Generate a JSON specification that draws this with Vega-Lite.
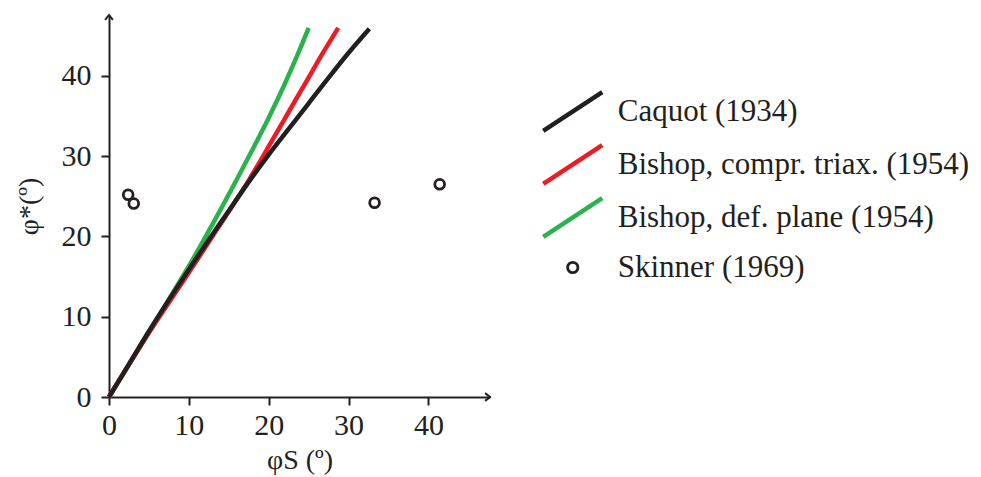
{
  "$schema": "https://vega.github.io/schema/vega-lite/v6.json",
  "width": 381,
  "height": 382,
  "autosize": "none",
  "padding": {"left": 109, "top": 15, "right": 491, "bottom": 80},
  "background": "white",
  "config": {"view": {"stroke": null}, "font": "Liberation Serif"},
  "datasets": {
    "curves": [
      {"series": "Bishop, def. plane (1954)", "phi_s": 0, "phi_star": 0},
      {"series": "Bishop, def. plane (1954)", "phi_s": 5, "phi_star": 8.1},
      {"series": "Bishop, def. plane (1954)", "phi_s": 8, "phi_star": 13.0},
      {"series": "Bishop, def. plane (1954)", "phi_s": 10, "phi_star": 16.3},
      {"series": "Bishop, def. plane (1954)", "phi_s": 12, "phi_star": 19.8},
      {"series": "Bishop, def. plane (1954)", "phi_s": 14, "phi_star": 23.4},
      {"series": "Bishop, def. plane (1954)", "phi_s": 16, "phi_star": 27.1},
      {"series": "Bishop, def. plane (1954)", "phi_s": 18, "phi_star": 30.9},
      {"series": "Bishop, def. plane (1954)", "phi_s": 20, "phi_star": 34.8},
      {"series": "Bishop, def. plane (1954)", "phi_s": 22, "phi_star": 39.0},
      {"series": "Bishop, def. plane (1954)", "phi_s": 23.5, "phi_star": 42.4},
      {"series": "Bishop, def. plane (1954)", "phi_s": 25.0, "phi_star": 46.0},
      {"series": "Bishop, compr. triax. (1954)", "phi_s": 0, "phi_star": 0},
      {"series": "Bishop, compr. triax. (1954)", "phi_s": 5, "phi_star": 8.0},
      {"series": "Bishop, compr. triax. (1954)", "phi_s": 10, "phi_star": 15.5},
      {"series": "Bishop, compr. triax. (1954)", "phi_s": 13.4, "phi_star": 20.7},
      {"series": "Bishop, compr. triax. (1954)", "phi_s": 15.5, "phi_star": 23.9},
      {"series": "Bishop, compr. triax. (1954)", "phi_s": 17.5, "phi_star": 27.0},
      {"series": "Bishop, compr. triax. (1954)", "phi_s": 20.5, "phi_star": 32.1},
      {"series": "Bishop, compr. triax. (1954)", "phi_s": 22.6, "phi_star": 35.7},
      {"series": "Bishop, compr. triax. (1954)", "phi_s": 24.7, "phi_star": 39.3},
      {"series": "Bishop, compr. triax. (1954)", "phi_s": 26.8, "phi_star": 42.9},
      {"series": "Bishop, compr. triax. (1954)", "phi_s": 28.7, "phi_star": 46.0},
      {"series": "Caquot (1934)", "phi_s": 0, "phi_star": 0},
      {"series": "Caquot (1934)", "phi_s": 2.5, "phi_star": 4.1},
      {"series": "Caquot (1934)", "phi_s": 5, "phi_star": 8.2},
      {"series": "Caquot (1934)", "phi_s": 7.5, "phi_star": 12.1},
      {"series": "Caquot (1934)", "phi_s": 10, "phi_star": 15.9},
      {"series": "Caquot (1934)", "phi_s": 12.5, "phi_star": 19.6},
      {"series": "Caquot (1934)", "phi_s": 15, "phi_star": 23.2},
      {"series": "Caquot (1934)", "phi_s": 17.5, "phi_star": 26.8},
      {"series": "Caquot (1934)", "phi_s": 20, "phi_star": 30.2},
      {"series": "Caquot (1934)", "phi_s": 22.5, "phi_star": 33.4},
      {"series": "Caquot (1934)", "phi_s": 25, "phi_star": 36.6},
      {"series": "Caquot (1934)", "phi_s": 27.5, "phi_star": 39.8},
      {"series": "Caquot (1934)", "phi_s": 30, "phi_star": 42.9},
      {"series": "Caquot (1934)", "phi_s": 32.6, "phi_star": 45.9}
    ],
    "skinner": [
      {"series": "Skinner (1969)", "phi_s": 2.4, "phi_star": 25.2},
      {"series": "Skinner (1969)", "phi_s": 3.1, "phi_star": 24.1},
      {"series": "Skinner (1969)", "phi_s": 33.25, "phi_star": 24.2},
      {"series": "Skinner (1969)", "phi_s": 41.4, "phi_star": 26.5}
    ]
  },
  "layer": [
    {
      "data": {"name": "curves"},
      "mark": {"type": "line", "strokeWidth": 4.5, "strokeCap": "butt", "interpolate": "monotone"},
      "encoding": {
        "x": {
          "field": "phi_s", "type": "quantitative",
          "scale": {"domain": [0, 47.7], "nice": false, "zero": true},
          "axis": {
            "title": "φS (º)", "values": [0, 10, 20, 30, 40], "grid": false,
            "tickSize": 8, "tickWidth": 2, "domainWidth": 2,
            "domainColor": "#231f20", "tickColor": "#231f20",
            "labelFont": "Liberation Serif", "labelFontSize": 30, "labelColor": "#231f20",
            "labelPadding": 5, "labelFlush": false, "labelOverlap": false,
            "titleFont": "Liberation Serif", "titleFontSize": 28, "titleFontWeight": "normal",
            "titleColor": "#231f20", "titlePadding": 6
          }
        },
        "y": {
          "field": "phi_star", "type": "quantitative",
          "scale": {"domain": [0, 47.6], "nice": false, "zero": true},
          "axis": {
            "title": "φ*(º)", "values": [0, 10, 20, 30, 40], "grid": false,
            "tickSize": 8, "tickWidth": 2, "domainWidth": 2,
            "domainColor": "#231f20", "tickColor": "#231f20",
            "labelFont": "Liberation Serif", "labelFontSize": 30, "labelColor": "#231f20",
            "labelPadding": 10, "labelFlush": false, "labelOverlap": false,
            "titleFont": "Liberation Serif", "titleFontSize": 28, "titleFontWeight": "normal",
            "titleColor": "#231f20", "titlePadding": 18
          }
        },
        "color": {
          "field": "series", "type": "nominal",
          "scale": {
            "domain": ["Caquot (1934)", "Bishop, compr. triax. (1954)", "Bishop, def. plane (1954)", "Skinner (1969)"],
            "range": ["#231f20", "#ed1c24", "#2bb24c", "#231f20"]
          },
          "legend": {
            "orient": "none", "legendX": 448.25, "legendY": 81, "title": null, "padding": 0,
            "labelFont": "Liberation Serif", "labelFontSize": 31, "labelColor": "#231f20",
            "labelLimit": 500,
            "labelOffset": 29.5, "rowPadding": -4, "symbolSize": 870, "symbolStrokeWidth": 4.5,
            "encode": {
              "symbols": {
                "update": {
                  "shape": {"signal": "datum.value === 'Skinner (1969)' ? 'M0,-1.32M0,1.32M0.35,0A0.35,0.35,0,1,1,-0.35,0A0.35,0.35,0,1,1,0.35,0Z' : 'M-2,1.32L2,-1.32'"},
                  "size": {"value": 870},
                  "strokeWidth": {"signal": "datum.value === 'Skinner (1969)' ? 2.8 : 4.5"},
                  "fill": {"value": "transparent"},
                  "stroke": {"signal": "scale('color', datum.value)"}
                }
              }
            }
          }
        }
      }
    },
    {
      "data": {"name": "skinner"},
      "mark": {"type": "point", "filled": false, "size": 95, "strokeWidth": 2.8, "opacity": 1},
      "encoding": {
        "x": {"field": "phi_s", "type": "quantitative"},
        "y": {"field": "phi_star", "type": "quantitative"},
        "color": {"field": "series", "type": "nominal"}
      }
    },
    {
      "data": {"values": [{}]},
      "mark": {"type": "point", "shape": "M-1.4,-1.1L0,0L-1.4,1.1", "filled": false, "stroke": "#231f20", "strokeWidth": 2, "size": 49, "opacity": 1},
      "encoding": {
        "x": {"datum": 47.7, "type": "quantitative"},
        "y": {"datum": 0, "type": "quantitative"}
      }
    },
    {
      "data": {"values": [{}]},
      "mark": {"type": "point", "shape": "M-1.1,1.4L0,0L1.1,1.4", "filled": false, "stroke": "#231f20", "strokeWidth": 2, "size": 49, "opacity": 1},
      "encoding": {
        "x": {"datum": 0, "type": "quantitative"},
        "y": {"datum": 47.6, "type": "quantitative"}
      }
    }
  ]
}
